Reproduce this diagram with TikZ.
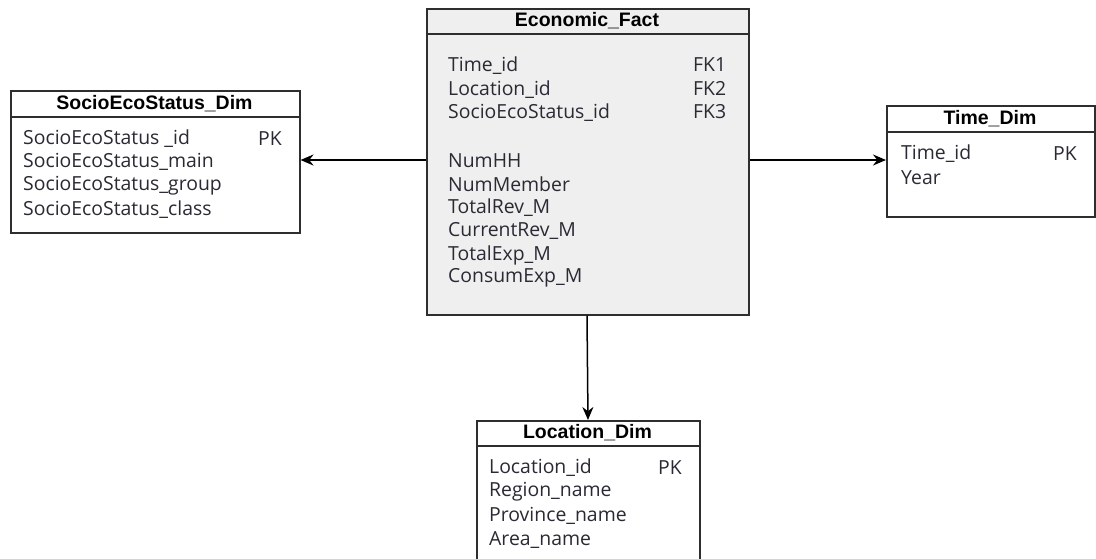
\documentclass[tikz,border=0pt]{standalone}
\usepackage{fontspec}
\setmainfont{Open Sans}
\newfontfamily\headfont{Liberation Sans}
\usetikzlibrary{arrows.meta}
\definecolor{edge}{HTML}{2E2E2E}
\definecolor{ink}{HTML}{2A2A35}
\definecolor{factfill}{HTML}{EFEFEF}
\tikzset{
  tablebox/.style={draw=edge, line width=1.5pt, anchor=north west, inner sep=0pt},
  tabletitle/.style={font=\headfont\bfseries\fontsize{19.5}{22}\selectfont, text=black, inner sep=0pt},
  field/.style={font=\fontsize{19.4}{23}\selectfont, text=ink, anchor=west, inner sep=0pt},
  link/.style={draw=black, line width=1.5pt, -{Stealth[length=13pt,width=11pt]}}
}
\begin{document}
\begin{tikzpicture}[x=1pt,y=-1pt]
\useasboundingbox (0,0) rectangle (1096,558);
\clip (0,0) rectangle (1096,558);

% fact table
\node[tablebox, fill=factfill, minimum width=322pt, minimum height=306pt] (fact) at (426,8) {};
\draw[edge, line width=1.5pt] (426,34) -- (748,34);
\node[tabletitle] (facttitle) at (587,21) {Economic\_Fact};
\node[field] (f1) at (448,66) {Time\_id};
\node[field] (f2) at (448,90) {Location\_id};
\node[field] (f3) at (448,113) {SocioEcoStatus\_id};
\node[field] (k1) at (693,65) {FK1};
\node[field] (k2) at (693,88) {FK2};
\node[field] (k3) at (693,112) {FK3};
\node[field] (m1) at (448,161) {NumHH};
\node[field] (m2) at (448,184) {NumMember};
\node[field] (m3) at (448,208) {TotalRev\_M};
\node[field] (m4) at (448,231) {CurrentRev\_M};
\node[field] (m5) at (448,255) {TotalExp\_M};
\node[field] (m6) at (448,278) {ConsumExp\_M};

% socio-economic status dimension
\node[tablebox, fill=white, minimum width=289pt, minimum height=142pt] (socio) at (10,90) {};
\draw[edge, line width=1.5pt] (10,117) -- (299,117);
\node[tabletitle] (sociotitle) at (154.5,104) {SocioEcoStatus\_Dim};
\node[field] (s1) at (23,139) {SocioEcoStatus \_id};
\node[field] (s2) at (23,162) {SocioEcoStatus\_main};
\node[field] (s3) at (23,186) {SocioEcoStatus\_group};
\node[field] (s4) at (23,210) {SocioEcoStatus\_class};
\node[field] (spk) at (258,139) {PK};

% time dimension
\node[tablebox, fill=white, minimum width=208pt, minimum height=111pt] (time) at (886,105) {};
\draw[edge, line width=1.5pt] (886,132) -- (1094,132);
\node[tabletitle] (timetitle) at (990,119) {Time\_Dim};
\node[field] (t1) at (901,154) {Time\_id};
\node[field] (t2) at (901,178) {Year};
\node[field] (tpk) at (1053,154) {PK};

% location dimension
\node[tablebox, fill=white, minimum width=223pt, minimum height=150pt] (loc) at (476,420) {};
\draw[edge, line width=1.5pt] (476,446) -- (699,446);
\node[tabletitle] (loctitle) at (587.5,433) {Location\_Dim};
\node[field] (l1) at (489,468) {Location\_id};
\node[field] (l2) at (489,492) {Region\_name};
\node[field] (l3) at (489,516) {Province\_name};
\node[field] (l4) at (489,540) {Area\_name};
\node[field] (lpk) at (658,468) {PK};

% foreign key links
\coordinate (row) at (0,160);
\draw[link] (fact.west |- row) -- (socio.east |- row);
\draw[link] (fact.east |- row) -- (time.west |- row);
\draw[link] (fact.south -| 587,0) -- (loc.north -| 588,0);
\end{tikzpicture}
\end{document}
